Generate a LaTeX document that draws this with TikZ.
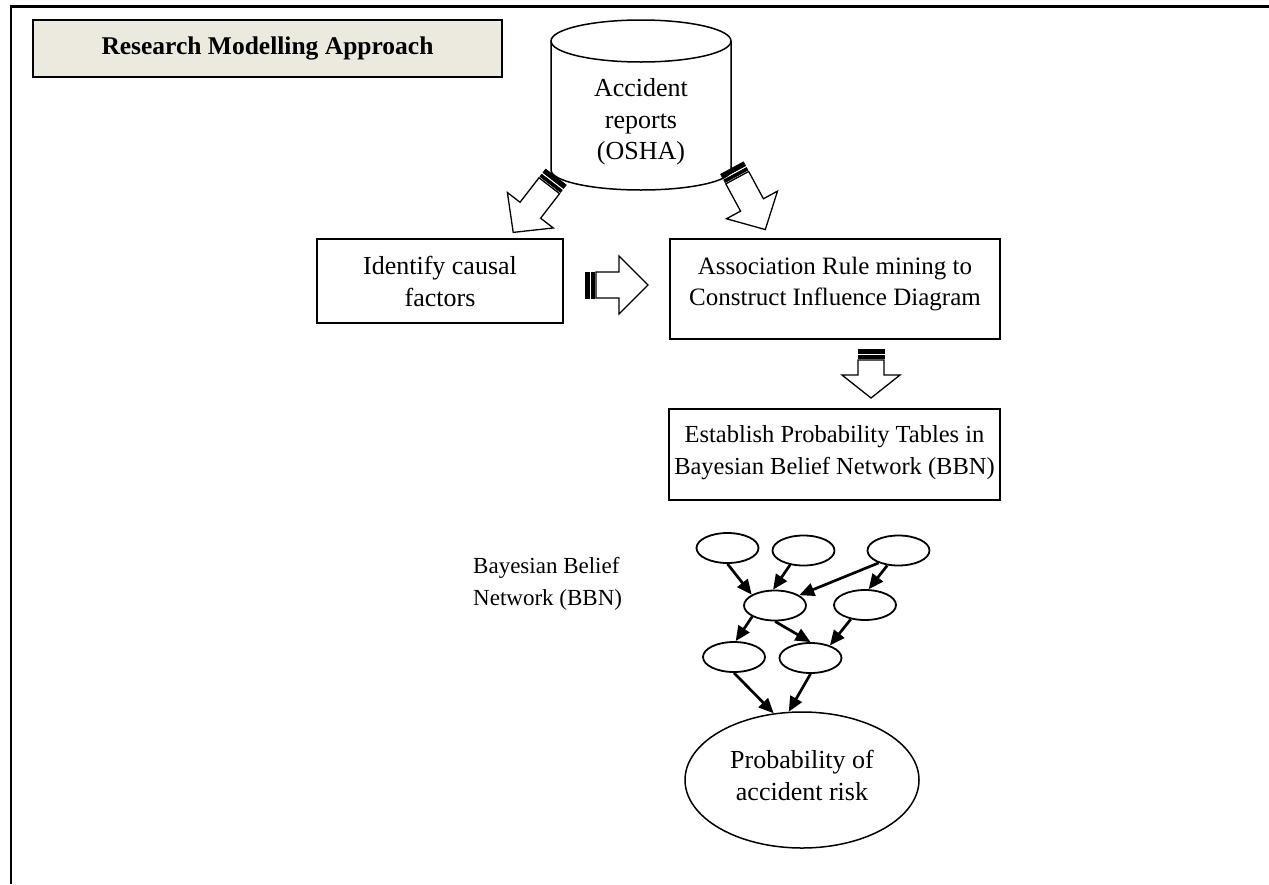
\documentclass[tikz,border=0pt]{standalone}
\usepackage{fontspec}
\setmainfont{Liberation Serif}
\usetikzlibrary{shapes.geometric,arrows.meta}
\definecolor{titlefill}{RGB}{236,233,223}
\begin{document}
\begin{tikzpicture}[x=1pt,y=-1pt,
  txt/.style={font=\fontsize{26}{32}\selectfont, align=center, inner sep=0pt},
  box/.style={draw, line width=1.3pt, inner sep=0pt},
  bn/.style={draw, ellipse, line width=1.8pt, minimum width=62pt, minimum height=30pt, inner sep=0pt},
  edge/.style={line width=2.7pt, -{Triangle[length=15pt,width=13pt]}},
  pics/blockarrow/.style 2 args={code={
    \filldraw[line width=0.6pt] (0,-13) rectangle (4.5,13);
    \filldraw[line width=0.6pt] (6.5,-13) rectangle (9.5,13);
    \draw[line width=1.3pt, line join=miter, fill=white] (11,-13) -- ({#1-#2},-13) -- ({#1-#2},-29) -- (#1,0) -- ({#1-#2},29) -- ({#1-#2},13) -- (11,13) -- cycle;
  }}
]
\useasboundingbox (0,0) rectangle (1269,884);
% frame
\draw[line width=2.2pt] (11,884) -- (11,6.5) -- (1269,6.5);
% title
\node[box, fill=titlefill, line width=1.6pt, minimum width=469pt, minimum height=57pt,
      font=\bfseries\fontsize{25.5}{30}\selectfont, text height=18pt, text depth=6pt] (title) at (267.5,48.5) {Research Modelling Approach};
% cylinder
\draw[line width=1.5pt, fill=white] (551,41) -- (551,170) arc[start angle=180, end angle=0, x radius=90, y radius=20] -- (731,41);
\draw[line width=1.5pt, fill=white] (641,41) ellipse [x radius=90, y radius=21];
\node[txt, font=\fontsize{26}{31.5}\selectfont] (cyltext) at (641,121.8) {Accident\strut\\reports\strut\\(OSHA)\strut};
% boxes
\node[box, minimum width=246pt, minimum height=84pt] (identify) at (440,281) {};
\node[txt] (identtext) at (440,283.6) {Identify causal\strut\\factors\strut};
\node[box, minimum width=330pt, minimum height=100pt] (assoc) at (835,289) {};
\node[txt, font=\fontsize{25}{31}\selectfont] (assoctext) at (835,283.3) {Association Rule mining to\strut\\Construct Influence Diagram\strut};
\node[box, minimum width=331pt, minimum height=91pt] (establish) at (834.5,454.5) {};
\node[txt, font=\fontsize{24.5}{32}\selectfont] (establishtext) at (834.5,451.6) {Establish Probability Tables in\strut\\Bayesian Belief Network (BBN)\strut};
% block arrows
\coordinate (a1) at (556,177);
\pic[rotate=-127.7] at (a1) {blockarrow={70}{28}};
\coordinate (a2) at (732,168);
\pic[rotate=-61.6] at (a2) {blockarrow={70}{28}};
\coordinate (a3) at (585,285);
\pic at (a3) {blockarrow={63}{29}};
\coordinate (a4) at (871,349);
\pic[rotate=-90] at (a4) {blockarrow={49}{23}};
% BBN label
\node[font=\fontsize{23}{32}\selectfont, align=left, inner sep=0pt, anchor=west] (bbnlabel) at (473,583.1) {Bayesian Belief\strut\\Network (BBN)\strut};
% BBN nodes
\node[bn] (n1) at (727.5,548) {};
\node[bn] (n2) at (803.5,550.5) {};
\node[bn] (n3) at (898.5,550.5) {};
\node[bn] (n4) at (775,605.5) {};
\node[bn] (n5) at (865,605) {};
\node[bn] (n6) at (734,657) {};
\node[bn] (n7) at (810.5,658) {};
\node[draw, ellipse, line width=1.5pt, minimum width=234pt, minimum height=136pt, inner sep=0pt] (risk) at (802,780) {};
\node[txt] (risktext) at (802,777.6) {Probability of\strut\\accident risk\strut};
% BBN edges
\draw[edge] (n1.south) -- (n4.155);
\draw[edge] (n2.-133) -- (n4.97);
\draw[edge] (n3.212) -- (n4.23);
\draw[edge] (n3.233) -- (n5.77);
\draw[edge] (n4.206) -- (n6.84);
\draw[edge] (n4.south) -- (n7.north);
\draw[edge] (n5.225) -- (n7.33);
\draw[edge] (n6.south) -- (risk.113);
\draw[edge] (n7.south) -- (risk.101);
\end{tikzpicture}
\end{document}
